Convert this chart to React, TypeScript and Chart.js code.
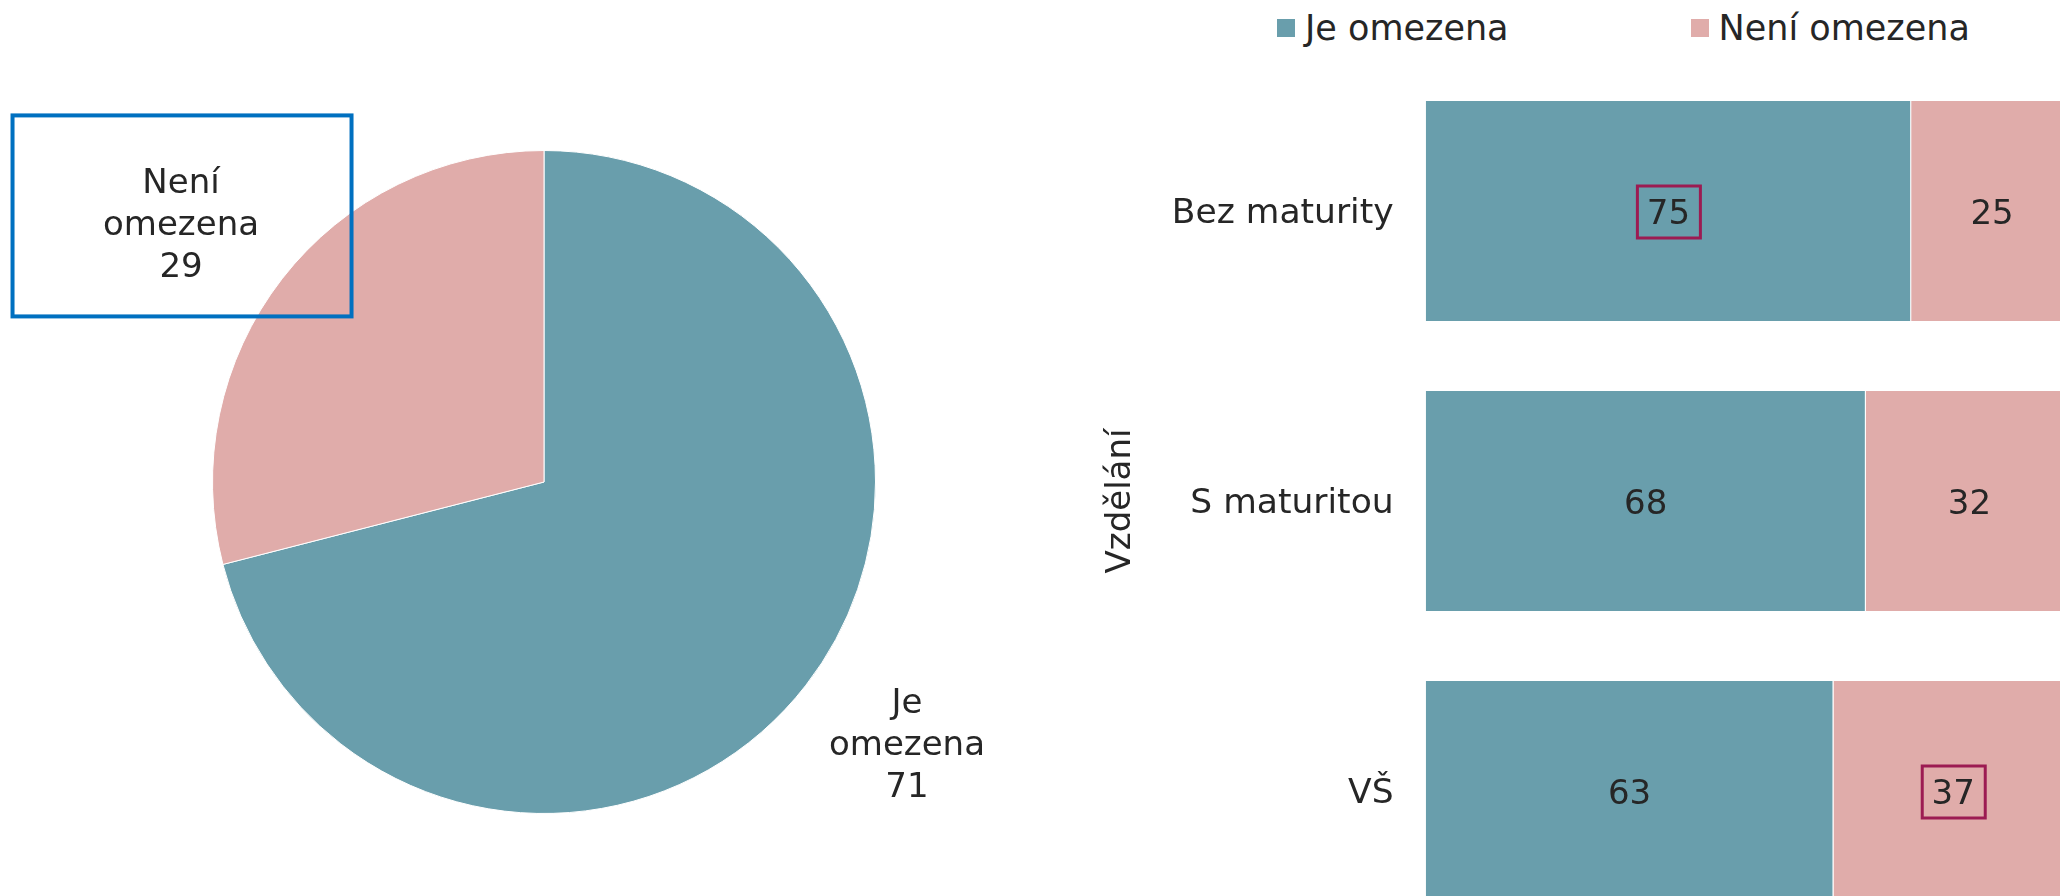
import React, { useEffect, useRef } from "react";
import { Chart, registerables } from "chart.js";

Chart.register(...registerables);

// ---- data ----
const pieLabels = ["Je omezena", "Není omezena"];
const pieValues = [71, 29];

const barCategories = ["Bez maturity", "S maturitou", "VŠ"];
const seriesNames = ["Je omezena", "Není omezena"];
const jeOmezena = [75, 68, 63];
const neniOmezena = [25, 32, 37];
const yAxisTitle = "Vzdělání";
// highlighted labels: [datasetIndex, dataIndex]
const highlightedBars = [
  [0, 0],
  [1, 2],
];
const highlightedPieSlice = 1;

// ---- style ----
const FONT = "'DejaVu Sans', Verdana, sans-serif";
const TEXT = "#262626";
const TEAL = "#699EAC";
const PINK = "#E0ACAA";
const BLUE_BOX = "#0070C0";
const MAGENTA_BOX = "#9C1B52";
const COLORS = [TEAL, PINK];

const pieLabelPlugin = {
  id: "pieLabels",
  afterDatasetsDraw(chart: any) {
    const ctx = chart.ctx;
    const meta = chart.getDatasetMeta(0);
    ctx.save();
    ctx.font = `34px ${FONT}`;
    ctx.fillStyle = TEXT;
    ctx.textAlign = "center";
    ctx.textBaseline = "middle";
    meta.data.forEach((arc: any, i: number) => {
      const { x, y, startAngle, endAngle, outerRadius } = arc.getProps(
        ["x", "y", "startAngle", "endAngle", "outerRadius"],
        true
      );
      const mid = (startAngle + endAngle) / 2 - 0.038;
      const d = outerRadius * 1.347;
      const cx = x + Math.cos(mid) * d;
      const cy = y + Math.sin(mid) * d;
      const words = pieLabels[i].split(" ");
      const lines = [...words, String(pieValues[i])];
      const lh = 42;
      lines.forEach((ln, k) => {
        ctx.fillText(ln, cx, cy + 4 + (k - (lines.length - 1) / 2) * lh);
      });
      if (i === highlightedPieSlice) {
        ctx.strokeStyle = BLUE_BOX;
        ctx.lineWidth = 4;
        ctx.strokeRect(cx + 1 - 169.5, cy - 6 - 100.5, 339, 201);
      }
    });
    ctx.restore();
  },
};

const barLabelPlugin = {
  id: "barLabels",
  afterDatasetsDraw(chart: any) {
    const ctx = chart.ctx;
    ctx.save();
    ctx.font = `34px ${FONT}`;
    ctx.fillStyle = TEXT;
    ctx.textAlign = "center";
    ctx.textBaseline = "middle";
    chart.data.datasets.forEach((ds: any, di: number) => {
      const meta = chart.getDatasetMeta(di);
      meta.data.forEach((bar: any, i: number) => {
        const { x, y, base } = bar.getProps(["x", "y", "base"], true);
        const cx = (x + base) / 2;
        const cy = y;
        ctx.fillStyle = TEXT;
        ctx.fillText(String(ds.data[i]), cx, cy + 4);
        if (highlightedBars.some(([a, b]) => a === di && b === i)) {
          ctx.strokeStyle = MAGENTA_BOX;
          ctx.lineWidth = 3;
          ctx.strokeRect(cx - 31, cy - 25, 63, 52);
        }
      });
    });
    ctx.restore();
  },
};

export default function App() {
  const pieRef = useRef<HTMLCanvasElement>(null);
  const barRef = useRef<HTMLCanvasElement>(null);

  useEffect(() => {
    Chart.defaults.font.family = FONT;
    Chart.defaults.color = TEXT;

    const pie = new Chart(pieRef.current!, {
      type: "pie",
      data: {
        labels: pieLabels,
        datasets: [
          {
            data: pieValues,
            backgroundColor: COLORS,
            borderColor: "#ffffff",
            borderWidth: 1,
          },
        ],
      },
      options: {
        responsive: false,
        animation: false,
        layout: { padding: { left: 212, top: 150, right: 184, bottom: 82 } },
        plugins: { legend: { display: false }, tooltip: { enabled: false } },
      },
      plugins: [pieLabelPlugin],
    });

    const bar = new Chart(barRef.current!, {
      type: "bar",
      data: {
        labels: barCategories,
        datasets: [
          {
            label: seriesNames[0],
            data: jeOmezena,
            backgroundColor: TEAL,
            borderColor: "#ffffff",
            borderWidth: 1,
            categoryPercentage: 0.766,
            barPercentage: 1,
          },
          {
            label: seriesNames[1],
            data: neniOmezena,
            backgroundColor: PINK,
            borderColor: "#ffffff",
            borderWidth: 1,
            categoryPercentage: 0.766,
            barPercentage: 1,
          },
        ],
      },
      options: {
        indexAxis: "y",
        responsive: false,
        animation: false,
        layout: { padding: 0 },
        scales: {
          x: { stacked: true, min: 0, max: 100, display: false },
          y: {
            stacked: true,
            grid: { display: false },
            border: { display: false },
            ticks: { font: { size: 34.5 }, color: TEXT, padding: 24, labelOffset: 3 },
            title: {
              display: true,
              text: yAxisTitle,
              font: { size: 34 },
              color: TEXT,
              padding: { top: 0, bottom: 6 },
            },
            afterFit: (scale: any) => {
              scale.paddingTop = 0;
              scale.paddingBottom = 0;
            },
          },
        },
        plugins: { legend: { display: false }, tooltip: { enabled: false } },
      },
      plugins: [barLabelPlugin],
    });

    return () => {
      pie.destroy();
      bar.destroy();
    };
  }, []);

  const legendItem = (name: string, color: string, ml: number) => (
    <div key={name} style={{ display: "flex", alignItems: "center", marginLeft: ml }}>
      <div style={{ width: 18, height: 18, background: color, marginRight: 10 }} />
      <span style={{ fontFamily: FONT, fontSize: 35, color: TEXT, lineHeight: "40px", whiteSpace: "nowrap" }}>
        {name}
      </span>
    </div>
  );

  return (
    <div
      style={{
        position: "fixed",
        left: 0,
        top: 0,
        width: 2060,
        height: 896,
        overflow: "hidden",
        background: "#ffffff",
      }}
    >
      <canvas
        ref={pieRef}
        width={1060}
        height={896}
        style={{ position: "absolute", left: 0, top: 0 }}
      />
      <canvas
        ref={barRef}
        width={972}
        height={870}
        style={{ position: "absolute", left: 1101, top: 66 }}
      />
      <div
        style={{
          position: "absolute",
          left: 1277,
          top: 8,
          height: 40,
          display: "flex",
          alignItems: "center",
        }}
      >
        {legendItem(seriesNames[0], TEAL, 0)}
        {legendItem(seriesNames[1], PINK, 182)}
      </div>
    </div>
  );
}
